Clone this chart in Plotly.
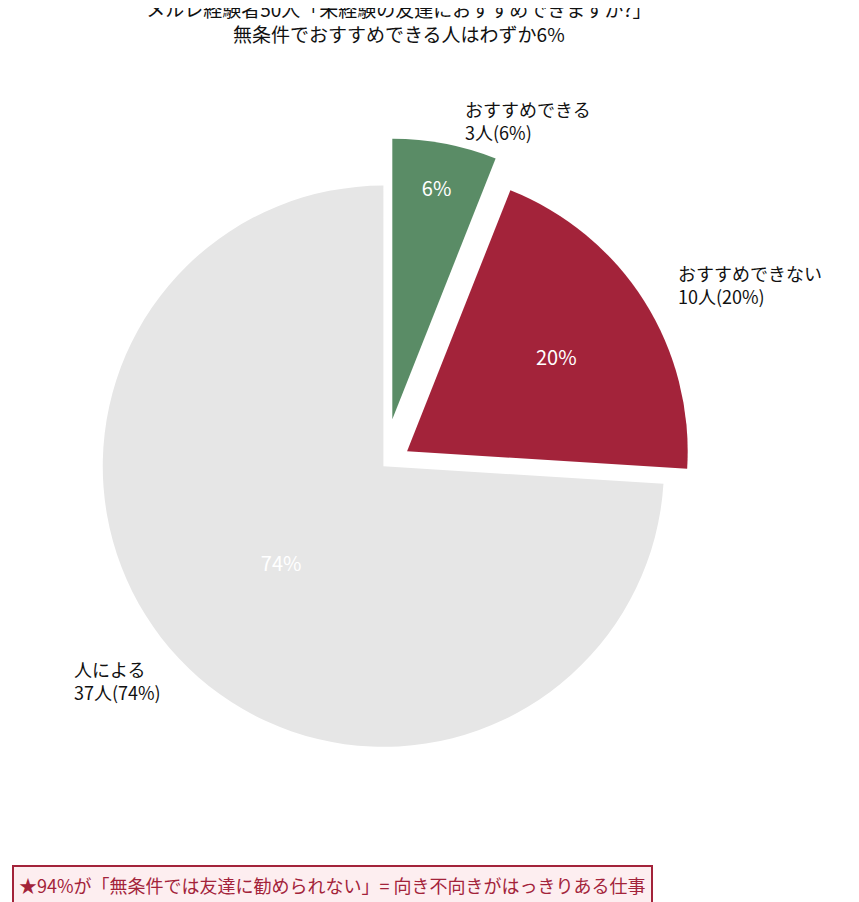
import plotly.graph_objects as go

labels = ["おすすめできる", "おすすめできない", "人による"]
counts = [3, 10, 37]
colors = ["#5a8c66", "#a3233a", "#e6e6e6"]
pulls = [0.17, 0.1, 0]

fig = go.Figure(go.Pie(
    labels=labels, values=counts, sort=False, direction="clockwise", rotation=0,
    pull=pulls, marker=dict(colors=colors, line=dict(color="white", width=0)),
    textinfo="percent", textposition="inside", insidetextorientation="horizontal",
    textfont=dict(color="white", size=20, family="Noto Sans CJK JP"),
    domain=dict(x=[0.052, 0.822], y=[0.128, 0.856]), showlegend=False, hoverinfo="label+value+percent"
))

total = sum(counts)
ann_pos = [(0.53, 0.875, "left"), (0.778, 0.694, "left"), (0.18, 0.254, "right")]
anns = []
for (x, y, al), lab, c in zip(ann_pos, labels, counts):
    anns.append(dict(x=x, y=y, xref="paper", yref="paper", xanchor=al, yanchor="middle",
                     align="left", showarrow=False,
                     text=f"{lab}<br>{c}人({round(c/total*100)}%)",
                     font=dict(size=18, color="#111", family="Noto Sans CJK JP")))
anns.append(dict(x=0.005, y=0.028, xref="paper", yref="paper", xanchor="left", yanchor="middle",
                 showarrow=False,
                 text="★94%が「無条件では友達に勧められない」= 向き不向きがはっきりある仕事",
                 font=dict(size=18, color="#a3233a", family="Noto Sans CJK JP"),
                 bgcolor="#fdeef0", bordercolor="#a3233a", borderwidth=2, borderpad=5))

fig.update_layout(
    width=859, height=902, paper_bgcolor="white", plot_bgcolor="white",
    margin=dict(l=0, r=0, t=0, b=0),
    title=dict(text="メルレ経験者50人「未経験の友達におすすめできますか?」<br>無条件でおすすめできる人はわずか6%",
               x=0.455, xanchor="center", y=0.99, yanchor="top",
               font=dict(size=19, color="#111", family="Noto Sans CJK JP")),
    annotations=anns,
)
fig.write_html("out.html")
